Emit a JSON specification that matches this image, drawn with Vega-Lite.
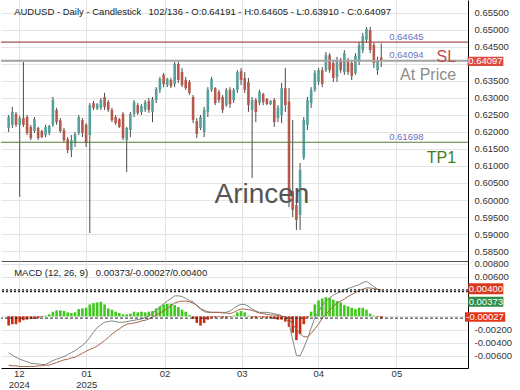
{
"$schema": "https://vega.github.io/schema/vega-lite/v6.json",
"padding": 0,
"background": "white",
"spacing": 0,
"bounds": "flush",
"config": {"view": {"stroke": null}, "font": "Liberation Sans", "text": {"font": "Liberation Sans"}},
"datasets": {"bars": [
{"i":0,"o":0.6212,"h":0.6250,"l":0.6200,"c":0.6244,"m":-0.0055,"s":-0.0074,"d":-0.0014},
{"i":1,"o":0.6221,"h":0.6274,"l":0.6212,"c":0.6259,"m":-0.0059,"s":-0.0075,"d":-0.0012},
{"i":2,"o":0.6253,"h":0.6259,"l":0.6215,"c":0.6221,"m":-0.0062,"s":-0.0075,"d":-0.0012},
{"i":3,"o":0.6221,"h":0.6247,"l":0.6009,"c":0.6241,"m":-0.0065,"s":-0.0076,"d":-0.0009},
{"i":4,"o":0.6241,"h":0.6406,"l":0.6215,"c":0.6221,"m":-0.0067,"s":-0.0076,"d":-0.0006},
{"i":5,"o":0.6244,"h":0.6250,"l":0.6191,"c":0.6197,"m":-0.0069,"s":-0.0076,"d":-0.0005},
{"i":6,"o":0.6215,"h":0.6221,"l":0.6176,"c":0.6182,"m":-0.0071,"s":-0.0076,"d":-0.0004},
{"i":7,"o":0.6203,"h":0.6244,"l":0.6197,"c":0.6238,"m":-0.0072,"s":-0.0076,"d":-0.0004},
{"i":8,"o":0.6212,"h":0.6215,"l":0.6176,"c":0.6182,"m":-0.0072,"s":-0.0075,"d":-0.0003},
{"i":9,"o":0.6203,"h":0.6206,"l":0.6182,"c":0.6185,"m":-0.0073,"s":-0.0075,"d":-0.0001},
{"i":10,"o":0.6191,"h":0.6221,"l":0.6185,"c":0.6215,"m":-0.0073,"s":-0.0074,"d":0.0001},
{"i":11,"o":0.6197,"h":0.6221,"l":0.6191,"c":0.6218,"m":-0.0070,"s":-0.0074,"d":0.0003},
{"i":12,"o":0.6221,"h":0.6303,"l":0.6215,"c":0.6294,"m":-0.0067,"s":-0.0072,"d":0.0007},
{"i":13,"o":0.6265,"h":0.6271,"l":0.6221,"c":0.6229,"m":-0.0065,"s":-0.0070,"d":0.0009},
{"i":14,"o":0.6235,"h":0.6241,"l":0.6197,"c":0.6203,"m":-0.0063,"s":-0.0068,"d":0.0009},
{"i":15,"o":0.6206,"h":0.6212,"l":0.6171,"c":0.6176,"m":-0.0061,"s":-0.0066,"d":0.0008},
{"i":16,"o":0.6179,"h":0.6185,"l":0.6138,"c":0.6147,"m":-0.0058,"s":-0.0065,"d":0.0006},
{"i":17,"o":0.6147,"h":0.6191,"l":0.6126,"c":0.6176,"m":-0.0055,"s":-0.0063,"d":0.0005},
{"i":18,"o":0.6168,"h":0.6200,"l":0.6156,"c":0.6194,"m":-0.0052,"s":-0.0062,"d":0.0006},
{"i":19,"o":0.6197,"h":0.6250,"l":0.6191,"c":0.6244,"m":-0.0048,"s":-0.0059,"d":0.0011},
{"i":20,"o":0.6235,"h":0.6241,"l":0.6185,"c":0.6197,"m":-0.0044,"s":-0.0056,"d":0.0012},
{"i":21,"o":0.6221,"h":0.6226,"l":0.6156,"c":0.6168,"m":-0.0039,"s":-0.0053,"d":0.0013},
{"i":22,"o":0.6191,"h":0.6285,"l":0.5903,"c":0.6279,"m":-0.0032,"s":-0.0050,"d":0.0018},
{"i":23,"o":0.6285,"h":0.6291,"l":0.6265,"c":0.6271,"m":-0.0024,"s":-0.0048,"d":0.0020},
{"i":24,"o":0.6268,"h":0.6285,"l":0.6265,"c":0.6282,"m":-0.0017,"s":-0.0045,"d":0.0021},
{"i":25,"o":0.6271,"h":0.6300,"l":0.6265,"c":0.6294,"m":-0.0013,"s":-0.0041,"d":0.0022},
{"i":26,"o":0.6303,"h":0.6315,"l":0.6265,"c":0.6274,"m":-0.0009,"s":-0.0037,"d":0.0018},
{"i":27,"o":0.6288,"h":0.6294,"l":0.6259,"c":0.6265,"m":-0.0008,"s":-0.0032,"d":0.0012},
{"i":28,"o":0.6265,"h":0.6271,"l":0.6229,"c":0.6235,"m":-0.0007,"s":-0.0027,"d":0.0010},
{"i":29,"o":0.6244,"h":0.6250,"l":0.6221,"c":0.6226,"m":-0.0008,"s":-0.0023,"d":0.0007},
{"i":30,"o":0.6238,"h":0.6241,"l":0.6212,"c":0.6215,"m":-0.0009,"s":-0.0019,"d":0.0005},
{"i":31,"o":0.6253,"h":0.6259,"l":0.6176,"c":0.6182,"m":-0.0009,"s":-0.0015,"d":0.0003},
{"i":32,"o":0.6176,"h":0.6215,"l":0.6082,"c":0.6212,"m":-0.0008,"s":-0.0012,"d":0.0003},
{"i":33,"o":0.6206,"h":0.6259,"l":0.6185,"c":0.6253,"m":-0.0007,"s":-0.0011,"d":0.0004},
{"i":34,"o":0.6253,"h":0.6294,"l":0.6244,"c":0.6288,"m":-0.0006,"s":-0.0010,"d":0.0007},
{"i":35,"o":0.6279,"h":0.6285,"l":0.6250,"c":0.6256,"m":-0.0005,"s":-0.0009,"d":0.0006},
{"i":36,"o":0.6259,"h":0.6282,"l":0.6250,"c":0.6276,"m":-0.0004,"s":-0.0007,"d":0.0007},
{"i":37,"o":0.6265,"h":0.6294,"l":0.6259,"c":0.6288,"m":-0.0002,"s":-0.0006,"d":0.0006},
{"i":38,"o":0.6291,"h":0.6300,"l":0.6256,"c":0.6265,"m":0.0001,"s":-0.0004,"d":0.0007},
{"i":39,"o":0.6259,"h":0.6303,"l":0.6229,"c":0.6297,"m":0.0005,"s":-0.0001,"d":0.0008},
{"i":40,"o":0.6294,"h":0.6332,"l":0.6285,"c":0.6326,"m":0.0009,"s":0.0002,"d":0.0012},
{"i":41,"o":0.6324,"h":0.6362,"l":0.6315,"c":0.6356,"m":0.0014,"s":0.0005,"d":0.0015},
{"i":42,"o":0.6368,"h":0.6374,"l":0.6332,"c":0.6341,"m":0.0019,"s":0.0008,"d":0.0018},
{"i":43,"o":0.6338,"h":0.6359,"l":0.6332,"c":0.6356,"m":0.0023,"s":0.0012,"d":0.0019},
{"i":44,"o":0.6353,"h":0.6359,"l":0.6329,"c":0.6335,"m":0.0027,"s":0.0016,"d":0.0019},
{"i":45,"o":0.6341,"h":0.6406,"l":0.6332,"c":0.6400,"m":0.0031,"s":0.0020,"d":0.0017},
{"i":46,"o":0.6400,"h":0.6406,"l":0.6344,"c":0.6353,"m":0.0031,"s":0.0022,"d":0.0014},
{"i":47,"o":0.6376,"h":0.6388,"l":0.6332,"c":0.6338,"m":0.0030,"s":0.0023,"d":0.0010},
{"i":48,"o":0.6353,"h":0.6362,"l":0.6324,"c":0.6329,"m":0.0027,"s":0.0023,"d":0.0007},
{"i":49,"o":0.6347,"h":0.6353,"l":0.6309,"c":0.6315,"m":0.0024,"s":0.0022,"d":0.0002},
{"i":50,"o":0.6303,"h":0.6309,"l":0.6226,"c":0.6235,"m":0.0022,"s":0.0020,"d":-0.0004},
{"i":51,"o":0.6232,"h":0.6241,"l":0.6182,"c":0.6194,"m":0.0016,"s":0.0017,"d":-0.0010},
{"i":52,"o":0.6212,"h":0.6250,"l":0.6206,"c":0.6244,"m":0.0011,"s":0.0012,"d":-0.0014},
{"i":53,"o":0.6200,"h":0.6274,"l":0.6185,"c":0.6265,"m":0.0007,"s":0.0009,"d":-0.0010},
{"i":54,"o":0.6259,"h":0.6332,"l":0.6244,"c":0.6324,"m":0.0006,"s":0.0007,"d":-0.0005},
{"i":55,"o":0.6324,"h":0.6362,"l":0.6318,"c":0.6356,"m":0.0006,"s":0.0006,"d":-0.0002},
{"i":56,"o":0.6329,"h":0.6332,"l":0.6279,"c":0.6285,"m":0.0006,"s":0.0006,"d":-0.0002},
{"i":57,"o":0.6318,"h":0.6324,"l":0.6285,"c":0.6294,"m":0.0006,"s":0.0006,"d":-0.0001},
{"i":58,"o":0.6303,"h":0.6309,"l":0.6256,"c":0.6265,"m":0.0006,"s":0.0005,"d":-0.0002},
{"i":59,"o":0.6279,"h":0.6329,"l":0.6274,"c":0.6324,"m":0.0006,"s":0.0005,"d":-0.0002},
{"i":60,"o":0.6324,"h":0.6332,"l":0.6271,"c":0.6282,"m":0.0008,"s":0.0004,"d":-0.0001},
{"i":61,"o":0.6294,"h":0.6329,"l":0.6285,"c":0.6324,"m":0.0012,"s":0.0006,"d":0.0001},
{"i":62,"o":0.6324,"h":0.6382,"l":0.6315,"c":0.6376,"m":0.0016,"s":0.0009,"d":0.0006},
{"i":63,"o":0.6379,"h":0.6388,"l":0.6338,"c":0.6353,"m":0.0018,"s":0.0011,"d":0.0008},
{"i":64,"o":0.6359,"h":0.6376,"l":0.6315,"c":0.6324,"m":0.0018,"s":0.0011,"d":0.0006},
{"i":65,"o":0.6347,"h":0.6359,"l":0.6259,"c":0.6279,"m":0.0015,"s":0.0010,"d":0.0001},
{"i":66,"o":0.6265,"h":0.6303,"l":0.6065,"c":0.6294,"m":0.0011,"s":0.0009,"d":-0.0002},
{"i":67,"o":0.6294,"h":0.6300,"l":0.6229,"c":0.6259,"m":0.0008,"s":0.0007,"d":-0.0002},
{"i":68,"o":0.6285,"h":0.6324,"l":0.6279,"c":0.6318,"m":0.0006,"s":0.0005,"d":-0.0001},
{"i":69,"o":0.6312,"h":0.6315,"l":0.6279,"c":0.6288,"m":0.0006,"s":0.0004,"d":-0.0002},
{"i":70,"o":0.6297,"h":0.6300,"l":0.6279,"c":0.6282,"m":0.0006,"s":0.0003,"d":-0.0002},
{"i":71,"o":0.6282,"h":0.6294,"l":0.6279,"c":0.6291,"m":0.0005,"s":0.0002,"d":-0.0003},
{"i":72,"o":0.6294,"h":0.6300,"l":0.6215,"c":0.6229,"m":0.0004,"s":0.0002,"d":-0.0004},
{"i":73,"o":0.6241,"h":0.6279,"l":0.6229,"c":0.6271,"m":0.0003,"s":0.0001,"d":-0.0005},
{"i":74,"o":0.6250,"h":0.6344,"l":0.6226,"c":0.6329,"m":0.0001,"s":0.0000,"d":-0.0005},
{"i":75,"o":0.6329,"h":0.6388,"l":0.6259,"c":0.6279,"m":-0.0002,"s":-0.0001,"d":-0.0008},
{"i":76,"o":0.6290,"h":0.6329,"l":0.5979,"c":0.6000,"m":-0.0010,"s":-0.0004,"d":-0.0016},
{"i":77,"o":0.6026,"h":0.6235,"l":0.5950,"c":0.5971,"m":-0.0036,"s":-0.0012,"d":-0.0025},
{"i":78,"o":0.5985,"h":0.6000,"l":0.5912,"c":0.5941,"m":-0.0059,"s":-0.0020,"d":-0.0036},
{"i":79,"o":0.5956,"h":0.6109,"l":0.5912,"c":0.6088,"m":-0.0060,"s":-0.0026,"d":-0.0027},
{"i":80,"o":0.6124,"h":0.6244,"l":0.6118,"c":0.6235,"m":-0.0048,"s":-0.0031,"d":-0.0012},
{"i":81,"o":0.6221,"h":0.6303,"l":0.6206,"c":0.6294,"m":-0.0034,"s":-0.0031,"d":-0.0002},
{"i":82,"o":0.6285,"h":0.6332,"l":0.6271,"c":0.6324,"m":-0.0018,"s":-0.0026,"d":0.0007},
{"i":83,"o":0.6324,"h":0.6382,"l":0.6318,"c":0.6374,"m":-0.0002,"s":-0.0019,"d":0.0018},
{"i":84,"o":0.6347,"h":0.6388,"l":0.6338,"c":0.6382,"m":0.0007,"s":-0.0012,"d":0.0024},
{"i":85,"o":0.6382,"h":0.6391,"l":0.6332,"c":0.6341,"m":0.0016,"s":-0.0003,"d":0.0027},
{"i":86,"o":0.6382,"h":0.6435,"l":0.6376,"c":0.6426,"m":0.0023,"s":0.0003,"d":0.0029},
{"i":87,"o":0.6426,"h":0.6432,"l":0.6374,"c":0.6382,"m":0.0028,"s":0.0009,"d":0.0028},
{"i":88,"o":0.6403,"h":0.6412,"l":0.6347,"c":0.6359,"m":0.0032,"s":0.0015,"d":0.0025},
{"i":89,"o":0.6362,"h":0.6421,"l":0.6347,"c":0.6412,"m":0.0035,"s":0.0020,"d":0.0023},
{"i":90,"o":0.6412,"h":0.6418,"l":0.6374,"c":0.6382,"m":0.0037,"s":0.0023,"d":0.0021},
{"i":91,"o":0.6376,"h":0.6441,"l":0.6368,"c":0.6432,"m":0.0040,"s":0.0026,"d":0.0017},
{"i":92,"o":0.6412,"h":0.6418,"l":0.6368,"c":0.6376,"m":0.0042,"s":0.0030,"d":0.0015},
{"i":93,"o":0.6403,"h":0.6412,"l":0.6353,"c":0.6365,"m":0.0044,"s":0.0033,"d":0.0013},
{"i":94,"o":0.6373,"h":0.6432,"l":0.6368,"c":0.6424,"m":0.0046,"s":0.0036,"d":0.0011},
{"i":95,"o":0.6406,"h":0.6465,"l":0.6397,"c":0.6456,"m":0.0048,"s":0.0039,"d":0.0013},
{"i":96,"o":0.6441,"h":0.6491,"l":0.6432,"c":0.6482,"m":0.0051,"s":0.0041,"d":0.0013},
{"i":97,"o":0.6471,"h":0.6509,"l":0.6462,"c":0.6503,"m":0.0053,"s":0.0043,"d":0.0010},
{"i":98,"o":0.6500,"h":0.6509,"l":0.6432,"c":0.6441,"m":0.0049,"s":0.0043,"d":0.0004},
{"i":99,"o":0.6456,"h":0.6462,"l":0.6388,"c":0.6403,"m":0.0045,"s":0.0042,"d":0.0001},
{"i":100,"o":0.6382,"h":0.6421,"l":0.6368,"c":0.6412,"m":0.0041,"s":0.0041,"d":-0.0001},
{"i":101,"o":0.64191,"h":0.64605,"l":0.63910,"c":0.64097,"m":0.00373,"s":0.0040,"d":-0.00027}
]},
"vconcat": [
{
 "width": 467, "height": 261,
 "layer": [
  {"data": {"name": "bars"},
   "mark": {"type": "rule", "color": "#4a4a4a", "strokeWidth": 1},
   "encoding": {
    "x": {"field": "i", "type": "quantitative", "scale": {"domain": [-0.716, 123.16], "nice": false, "zero": false},
      "axis": {"values": [2.73, 21.03, 42.25, 63.21, 83.9, 105.1], "tickCount": 20, "labels": false, "ticks": false, "domain": true, "domainColor": "#555555", "grid": true, "gridColor": "#e4e4e4", "title": null, "minExtent": 0, "maxExtent": 0}},
    "y": {"field": "l", "type": "quantitative", "scale": {"domain": [0.58206, 0.65882], "nice": false, "zero": false},
      "axis": {"orient": "right", "values": [0.585, 0.59, 0.595, 0.6, 0.605, 0.61, 0.615, 0.62, 0.625, 0.63, 0.635, 0.64, 0.645, 0.65, 0.655], "tickCount": 40, "labelExpr": "abs(datum.value - 0.64) < 0.0001 ? '' : format(datum.value, '.5f')", "labelOverlap": false, "grid": true, "gridColor": "#e4e4e4", "ticks": false, "domainColor": "#000000", "labelColor": "#333333", "labelFontSize": 9.5, "labelPadding": 6, "title": null}},
    "y2": {"field": "h"}
   }},
  {"data": {"name": "bars"},
   "mark": {"type": "bar", "size": 2.6},
   "encoding": {
    "x": {"field": "i", "type": "quantitative"},
    "y": {"field": "o", "type": "quantitative"},
    "y2": {"field": "c"},
    "color": {"condition": {"test": "datum.c >= datum.o", "value": "#55a09a"}, "value": "#b5594c"}
   }},
  {"data": {"values": [{}]}, "mark": {"type": "rule", "color": "#a0564c", "strokeWidth": 1.3}, "encoding": {"y": {"datum": 0.64645}}},
  {"data": {"values": [{}]}, "mark": {"type": "rule", "color": "#a3a3a3", "strokeWidth": 2}, "encoding": {"y": {"datum": 0.64094}}},
  {"data": {"values": [{}]}, "mark": {"type": "rule", "color": "#557a35", "strokeWidth": 1.2}, "encoding": {"y": {"datum": 0.61698}}},
  {"data": {"values": [{}]}, "mark": {"type": "text", "align": "left", "baseline": "middle", "fontSize": 9.5, "color": "#222222", "text": "AUDUSD - Daily - Candlestick"}, "encoding": {"x": {"datum": 1.49}, "y": {"datum": 0.6554}}},
  {"data": {"values": [{}]}, "mark": {"type": "text", "align": "left", "baseline": "middle", "fontSize": 9.5, "color": "#222222", "text": "102/136 - O:0.64191 - H:0.64605 - L:0.63910 - C:0.64097"}, "encoding": {"x": {"datum": 37.93}, "y": {"datum": 0.6554}}},
  {"data": {"values": [{}]}, "mark": {"type": "text", "align": "center", "baseline": "middle", "fontSize": 9.5, "color": "#6b72c4", "text": "0.64645"}, "encoding": {"x": {"datum": 107.8}, "y": {"datum": 0.64794}}},
  {"data": {"values": [{}]}, "mark": {"type": "text", "align": "center", "baseline": "middle", "fontSize": 9.5, "color": "#6b72c4", "text": "0.64094"}, "encoding": {"x": {"datum": 107.8}, "y": {"datum": 0.64264}}},
  {"data": {"values": [{}]}, "mark": {"type": "text", "align": "center", "baseline": "middle", "fontSize": 9.5, "color": "#6b72c4", "text": "0.61698"}, "encoding": {"x": {"datum": 107.8}, "y": {"datum": 0.61853}}},
  {"data": {"values": [{}]}, "mark": {"type": "text", "align": "right", "baseline": "alphabetic", "fontSize": 16, "color": "#c0504d", "text": "SL"}, "encoding": {"x": {"datum": 121.3}, "y": {"datum": 0.64058}}},
  {"data": {"values": [{}]}, "mark": {"type": "text", "align": "right", "baseline": "alphabetic", "fontSize": 16, "color": "#8c8c8c", "text": "At Price"}, "encoding": {"x": {"datum": 121.3}, "y": {"datum": 0.63529}}},
  {"data": {"values": [{}]}, "mark": {"type": "text", "align": "right", "baseline": "alphabetic", "fontSize": 16, "color": "#3f7f1f", "text": "TP1"}, "encoding": {"x": {"datum": 121.3}, "y": {"datum": 0.61088}}},
  {"data": {"values": [{}]}, "mark": {"type": "text", "align": "left", "baseline": "alphabetic", "fontSize": 28, "color": "#555555", "text": "Arincen"}, "encoding": {"x": {"datum": 55.8}, "y": {"datum": 0.59911}}},
  {"data": {"values": [{}]}, "mark": {"type": "rect", "color": "#dc4a40"}, "encoding": {"x": {"datum": 124.4}, "x2": {"datum": 134.1}, "y": {"datum": 0.64214}, "y2": {"datum": 0.63941}}},
  {"data": {"values": [{}]}, "mark": {"type": "text", "align": "center", "baseline": "middle", "fontSize": 9.5, "color": "#ffffff", "text": "0.64097"}, "encoding": {"x": {"datum": 129.25}, "y": {"datum": 0.64076}}}
 ]
},
{
 "width": 467, "height": 107,
 "layer": [
  {"data": {"name": "bars"},
   "mark": {"type": "bar", "size": 2.6},
   "encoding": {
    "x": {"field": "i", "type": "quantitative", "scale": {"domain": [-0.716, 123.16], "nice": false, "zero": false},
      "axis": {"values": [2.73, 21.03, 42.25, 63.21, 83.9, 105.1], "tickCount": 20, "labelExpr": "datum.value < 5 ? ['12', '2024'] : datum.value < 30 ? ['01', '2025'] : datum.value < 50 ? '02' : datum.value < 70 ? '03' : datum.value < 90 ? '04' : '05'", "labelOverlap": false, "ticks": false, "grid": true, "gridColor": "#e4e4e4", "domainColor": "#000000", "labelColor": "#333333", "labelFontSize": 9.5, "labelPadding": 0, "labelFlush": false, "labelLineHeight": 11, "title": null}},
    "y": {"field": "d", "type": "quantitative", "scale": {"domain": [-0.00783, 0.00838], "nice": false, "zero": false},
      "axis": {"orient": "right", "values": [0.008, 0.006, 0.004, 0.002, 0, -0.002, -0.004, -0.006], "tickCount": 40, "labelOverlap": false, "labelExpr": "(datum.value > -0.001 && datum.value < 0.005) ? '' : replace(format(datum.value, '.5f'), '\u2212', '-')", "grid": true, "gridColor": "#e4e4e4", "ticks": false, "domainColor": "#000000", "labelColor": "#333333", "labelFontSize": 9.5, "labelPadding": 6, "title": null}},
    "y2": {"datum": 0},
    "color": {"condition": {"test": "datum.d >= 0", "value": "#3fc81c"}, "value": "#cf2a10"}
   }},
  {"data": {"name": "bars"}, "mark": {"type": "line", "color": "#7d8a84", "strokeWidth": 1}, "encoding": {"x": {"field": "i", "type": "quantitative"}, "y": {"field": "m", "type": "quantitative"}}},
  {"data": {"name": "bars"}, "mark": {"type": "line", "color": "#a3664a", "strokeWidth": 1}, "encoding": {"x": {"field": "i", "type": "quantitative"}, "y": {"field": "s", "type": "quantitative"}}},
  {"data": {"values": [{}]}, "mark": {"type": "rule", "color": "#222222", "strokeWidth": 1.2, "strokeDash": [2, 2]}, "encoding": {"y": {"datum": 0.004}}},
  {"data": {"values": [{}]}, "mark": {"type": "rule", "color": "#222222", "strokeWidth": 1.2, "strokeDash": [2, 2]}, "encoding": {"y": {"datum": 0.00373}}},
  {"data": {"values": [{}]}, "mark": {"type": "rule", "color": "#222222", "strokeWidth": 1, "strokeDash": [3, 2]}, "encoding": {"y": {"datum": -0.00027}}},
  {"data": {"values": [{}]}, "mark": {"type": "text", "align": "left", "baseline": "middle", "fontSize": 9.5, "color": "#222222", "text": "MACD (12, 26, 9)"}, "encoding": {"x": {"datum": 1.49}, "y": {"datum": 0.00656}}},
  {"data": {"values": [{}]}, "mark": {"type": "text", "align": "left", "baseline": "middle", "fontSize": 9.5, "color": "#222222", "text": "0.00373/-0.00027/0.00400"}, "encoding": {"x": {"datum": 23.6}, "y": {"datum": 0.00656}}},
  {"data": {"values": [{}]}, "mark": {"type": "rect", "color": "#d63a1f"}, "encoding": {"x": {"datum": 124.6}, "x2": {"datum": 134.1}, "y": {"datum": 0.005}, "y2": {"datum": 0.00333}}},
  {"data": {"values": [{}]}, "mark": {"type": "text", "align": "center", "baseline": "middle", "fontSize": 9.5, "color": "#ffffff", "text": "0.00400"}, "encoding": {"x": {"datum": 129.35}, "y": {"datum": 0.00417}}},
  {"data": {"values": [{}]}, "mark": {"type": "rect", "color": "#2f8f46"}, "encoding": {"x": {"datum": 124.6}, "x2": {"datum": 134.1}, "y": {"datum": 0.00297}, "y2": {"datum": 0.00145}}},
  {"data": {"values": [{}]}, "mark": {"type": "text", "align": "center", "baseline": "middle", "fontSize": 9.5, "color": "#ffffff", "text": "0.00373"}, "encoding": {"x": {"datum": 129.35}, "y": {"datum": 0.00221}}},
  {"data": {"values": [{}]}, "mark": {"type": "rect", "color": "#e2351c"}, "encoding": {"x": {"datum": 123.7}, "x2": {"datum": 134.6}, "y": {"datum": 0.00061}, "y2": {"datum": -0.00082}}},
  {"data": {"values": [{}]}, "mark": {"type": "text", "align": "center", "baseline": "middle", "fontSize": 9.5, "color": "#ffffff", "text": "-0.00027"}, "encoding": {"x": {"datum": 129.15}, "y": {"datum": -0.00011}}}
 ]
}
]
}
